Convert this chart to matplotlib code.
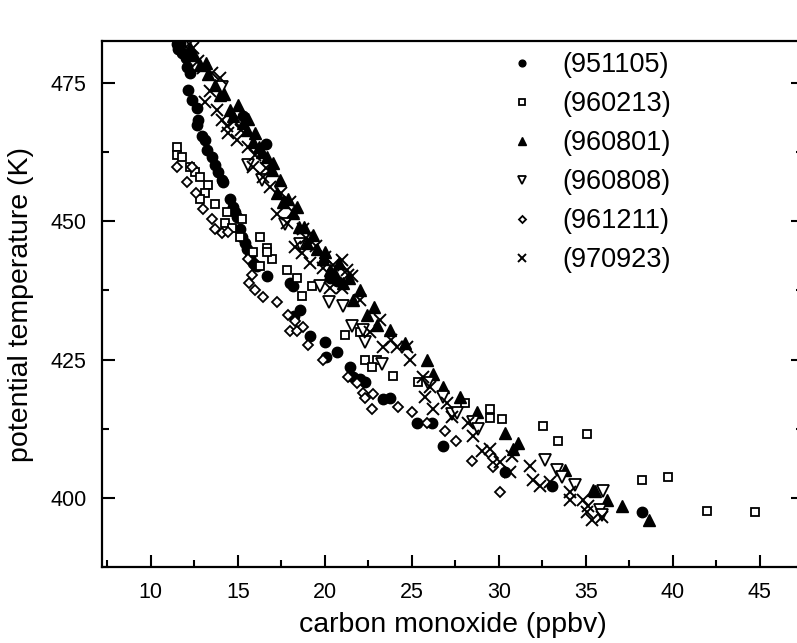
import matplotlib
matplotlib.use("Agg")
import matplotlib.pyplot as plt
from matplotlib.ticker import MultipleLocator

plt.rcParams['font.family'] = ['Liberation Sans', 'DejaVu Sans']

# CO (ppbv) and potential temperature (K) per flight
co_951105 = [11.5, 11.55, 11.7, 11.8, 12.0, 12.07, 12.2, 12.24, 12.13, 12.36, 12.64, 12.7, 12.64, 12.93,
             13.1, 13.22, 13.51, 13.68, 13.85, 14.08, 14.14, 14.54, 14.71, 14.83, 14.94, 15.11, 15.23,
             15.4, 15.52, 15.69, 15.86, 15.98, 16.09, 16.67, 17.99, 18.16, 18.56, 18.22, 19.14,
             20.0, 20.69, 20.06, 21.44, 21.61, 22.01, 22.3, 23.33, 23.74, 25.29, 26.15, 26.78,
             30.34, 33.05, 38.22, 20.29, 20.69, 15.3, 16.6]
th_951105 = [481.9, 481.0, 482.2, 480.3, 479.5, 477.9, 480.2, 476.8, 473.7, 471.9, 470.5, 468.3, 467.4,
             465.3, 464.7, 462.9, 461.6, 460.2, 458.8, 457.5, 457.0, 453.9, 452.6, 451.7, 450.8, 448.5,
             447.2, 446.1, 444.9, 443.6, 442.5, 442.1, 441.8, 440.0, 438.9, 438.2, 434.0, 432.8, 429.2,
             428.2, 426.3, 425.5, 423.6, 421.9, 421.4, 421.0, 417.8, 418.1, 413.6, 413.6, 409.3,
             404.6, 402.1, 397.4, 439.8, 439.1, 469.0, 464.0]

co_960213 = [11.49, 11.49, 11.78, 12.24, 12.53, 12.82, 13.28, 13.1, 12.82, 13.68, 14.37, 15.23, 14.25,
             14.66, 15.11, 16.26, 16.67, 15.86, 16.95, 16.26, 17.82, 18.39, 16.67, 18.68, 19.25,
             21.15, 22.01, 22.3, 22.99, 22.7, 23.91, 25.34, 28.05, 29.48, 29.48, 30.17, 32.53,
             33.39, 35.06, 38.22, 39.71, 41.95, 44.71]
th_960213 = [463.3, 462.0, 461.5, 459.8, 458.8, 458.0, 456.6, 455.1, 453.9, 453.0, 451.7, 450.3, 449.7,
             448.8, 447.2, 447.2, 445.2, 444.5, 443.1, 441.8, 441.2, 439.8, 444.5, 436.4, 438.2,
             429.5, 429.9, 425.0, 425.0, 423.6, 422.1, 421.0, 417.2, 416.0, 414.5, 414.2, 412.9,
             410.2, 411.5, 403.3, 403.7, 397.7, 397.4]

co_960801 = [12.24, 12.5, 12.82, 13.2, 13.3, 13.68, 14.0, 14.2, 14.54, 14.71, 15.0, 15.29, 15.52, 15.6,
             15.86, 16.0, 16.2, 16.4, 16.67, 16.95, 17.0, 17.24, 17.4, 17.6, 17.9, 18.16, 18.4, 18.5,
             18.8, 18.97, 19.3, 19.54, 19.89, 20.0, 20.29, 20.6, 20.8, 21.03, 21.4, 21.61, 22.0,
             22.41, 22.8, 22.99, 23.74, 25.86, 26.21, 26.78, 27.76, 28.74, 30.34, 31.09, 30.8, 33.79,
             35.4, 35.52, 36.21, 37.07, 38.62, 24.6]
th_960801 = [481.3, 480.0, 478.2, 478.5, 476.5, 474.6, 472.8, 473.0, 470.1, 468.9, 471.0, 467.8, 466.5,
             468.5, 464.2, 466.0, 463.3, 462.5, 461.6, 459.3, 460.5, 455.1, 457.5, 453.5, 454.0, 451.5,
             452.5, 449.0, 449.0, 446.1, 447.5, 444.9, 443.1, 444.5, 441.2, 440.5, 442.5, 438.9,
             439.8, 435.8, 437.5, 433.1, 434.5, 431.3, 430.4, 425.0, 422.3, 420.0, 418.3, 415.6,
             411.8, 410.0, 408.8, 405.1, 401.5, 401.2, 399.7, 398.5, 396.0, 428.0]

co_960808 = [14.08, 15.57, 16.38, 17.7, 18.56, 19.71, 20.23, 21.03, 21.55, 22.18, 22.3, 23.28, 25.92,
             26.78, 27.3, 27.59, 28.51, 28.79, 32.64, 33.33, 33.62, 34.37, 35.98, 35.8, 35.92]
th_960808 = [474.3, 460.2, 457.5, 449.4, 445.8, 438.2, 435.3, 434.6, 431.0, 430.4, 428.2, 424.1, 420.8,
             418.3, 415.1, 415.4, 413.8, 412.4, 406.9, 405.1, 403.7, 402.4, 401.2, 397.9, 397.0]

co_961211 = [11.49, 12.07, 12.36, 12.6, 12.99, 13.51, 13.68, 14.08, 14.43, 15.57, 15.8, 15.63, 15.98,
             16.44, 17.24, 17.87, 18.28, 17.99, 18.39, 18.74, 19.02, 19.89, 21.32, 21.84, 22.18,
             22.3, 22.76, 22.7, 24.2, 25.0, 25.86, 26.9, 27.53, 28.45, 29.66, 29.66, 30.06]
th_961211 = [459.8, 457.1, 459.8, 455.0, 452.1, 450.3, 448.5, 447.9, 448.1, 443.1, 440.3, 438.9, 437.6,
             436.2, 435.3, 433.1, 431.9, 430.1, 430.1, 430.8, 427.7, 425.0, 421.8, 420.8, 419.0,
             418.1, 418.7, 416.0, 416.5, 415.6, 413.6, 412.0, 410.2, 406.6, 407.3, 405.5, 401.0]

co_970923 = [12.0, 12.41, 12.7, 12.99, 13.4, 13.51, 13.97, 13.1, 13.79, 14.08, 14.37, 14.43, 14.8, 14.94,
             15.2, 15.57, 15.86, 16.0, 16.44, 16.6, 16.84, 17.24, 17.5, 17.82, 18.0, 18.16, 18.74,
             18.9, 18.28, 18.68, 19.14, 19.5, 20.0, 20.46, 21.0, 21.26, 21.55, 19.89, 21.32, 20.29,
             20.98, 22.01, 23.16, 22.59, 23.33, 23.8, 24.14, 24.71, 24.89, 25.63, 26.03, 25.75,
             26.21, 27.01, 27.3, 28.22, 28.51, 29.02, 29.48, 30.06, 30.75, 30.63, 31.78, 31.95,
             32.36, 32.93, 34.08, 34.08, 34.83, 35.11, 35.34, 35.92, 35.06]
th_970923 = [481.5, 481.3, 479.0, 477.7, 473.5, 476.8, 475.9, 471.6, 470.1, 468.3, 467.1, 466.0, 468.0,
             464.7, 466.5, 463.4, 459.8, 462.0, 458.0, 459.5, 456.2, 451.2, 455.0, 449.7, 453.5,
             451.7, 448.5, 447.0, 445.4, 444.3, 442.5, 445.5, 443.5, 442.1, 443.0, 441.2, 440.0,
             441.6, 440.3, 438.0, 438.0, 435.8, 432.2, 429.9, 427.2, 428.5, 427.2, 427.2, 425.0,
             421.9, 420.1, 418.3, 416.0, 417.2, 414.7, 413.6, 411.1, 408.4, 408.8, 406.4, 407.5,
             404.6, 405.7, 403.3, 402.1, 402.8, 401.0, 399.7, 399.7, 398.5, 396.1, 396.5, 397.4]

fig = plt.figure(figsize=(7.97, 6.43), dpi=100)
ax = fig.add_axes([0.128, 0.118, 0.88, 0.818])

ax.plot(co_951105, th_951105, 'o', ms=7.5, color='black', ls='none', label='(951105)')
ax.plot(co_960213, th_960213, 's', ms=6, mfc='white', mec='black', mew=1.3, ls='none', label='(960213)')
ax.plot(co_960801, th_960801, '^', ms=8, color='black', ls='none', label='(960801)')
ax.plot(co_960808, th_960808, 'v', ms=8, mfc='white', mec='black', mew=1.3, ls='none', label='(960808)')
ax.plot(co_961211, th_961211, 'D', ms=5.5, mfc='white', mec='black', mew=1.3, ls='none', label='(961211)')
ax.plot(co_970923, th_970923, 'x', ms=8, color='black', mew=1.4, ls='none', label='(970923)')

ax.set_xlim(7.2, 47.5)
ax.set_ylim(387.5, 482.5)
ax.xaxis.set_major_locator(MultipleLocator(5))
ax.xaxis.set_minor_locator(MultipleLocator(2.5))
ax.yaxis.set_major_locator(MultipleLocator(25))
ax.yaxis.set_minor_locator(MultipleLocator(12.5))
ax.tick_params(which='both', direction='in', left=True, right=True, top=False, width=1.5)
ax.tick_params(which='major', length=9, labelsize=15.5, pad=11)
ax.tick_params(which='minor', length=5)
for s in ax.spines.values():
    s.set_linewidth(1.6)

ax.set_xlabel('carbon monoxide (ppbv)', fontsize=20.5, labelpad=6)
ax.set_ylabel('potential temperature (K)', fontsize=20.5, labelpad=12)

ax.legend(loc='upper left', bbox_to_anchor=(0.638, 0.919), bbox_transform=fig.transFigure,
          frameon=False, fontsize=19.5, markerscale=0.65, handlelength=1.0,
          handletextpad=1.0, labelspacing=0.48, borderpad=0, borderaxespad=0)

fig.savefig('out.png', dpi=100)
